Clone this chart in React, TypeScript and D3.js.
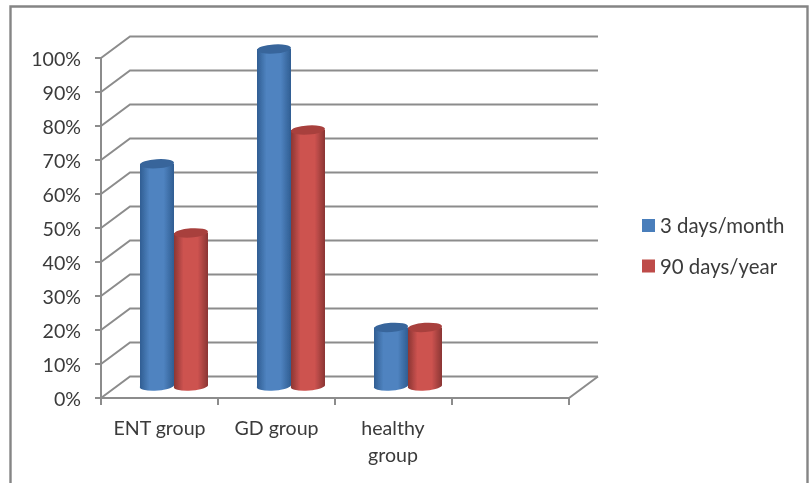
import React from "react";
import * as d3 from "d3";

const categories = ["ENT group", "GD group", "healthy group", ""];
const categoryLines = [["ENT group"], ["GD group"], ["healthy", "group"], []];
const seriesNames = ["3 days/month", "90 days/year"];
const threeDaysMonth = [66, 100, 17.5];
const ninetyDaysYear = [45.5, 76, 17.5];
const yTicks = [0, 10, 20, 30, 40, 50, 60, 70, 80, 90, 100];

const FONT = "Lato, 'Open Sans', sans-serif";
const AXIS = "#8c8c8c";
const TEXT = "#3a3a3a";
const DEPTH_X = 29;
const DEPTH_Y = 21.5;
const COLORS = [
  { id: "blue", edge: "#2f5d92", mid: "#4f83c0", top: "#37659b", legend: "#4a7ebb" },
  { id: "red", edge: "#8a3533", mid: "#cd5350", top: "#a8413e", legend: "#be4b48" },
];

export default function App() {
  const x = d3.scaleBand<string>().domain(categories).range([101, 569]);
  const yFront = d3.scaleLinear().domain([0, 100]).range([398, 58]);
  const yBar = d3.scaleLinear().domain([0, 100]).range([386.5, 49]);
  const bw = x.bandwidth();
  const barW = 34;
  const rx = barW / 2;
  const ry = 4.6;
  const series = [threeDaysMonth, ninetyDaysYear];

  return (
    <svg width={811} height={483} style={{ position: "absolute", left: 0, top: 0, display: "block", background: "#fff" }}>
      <defs>
        {COLORS.map((c) => (
          <linearGradient key={c.id} id={c.id} x1="0" x2="1" y1="0" y2="0">
            <stop offset="0" stopColor={c.edge} />
            <stop offset="0.28" stopColor={c.mid} />
            <stop offset="0.7" stopColor={c.mid} />
            <stop offset="1" stopColor={c.edge} />
          </linearGradient>
        ))}
        <filter id="soft" x="-5%" y="-5%" width="110%" height="110%">
          <feGaussianBlur stdDeviation="0.45" />
        </filter>
      </defs>
      <g filter="url(#soft)">
        <path d="M10.5,490 V6.5 H807.5 V490" fill="none" stroke="#858585" strokeWidth={2.4} />
        {yTicks.map((t) => {
          const y0 = yFront(t);
          return (
            <g key={t}>
              <path
                d={`M101,${y0} L${101 + DEPTH_X},${y0 - DEPTH_Y} H${569 + DEPTH_X}`}
                fill="none"
                stroke={AXIS}
                strokeWidth={2}
              />
              <line x1={95} x2={101} y1={y0} y2={y0} stroke={AXIS} strokeWidth={2} />
              <text x={81} y={y0 + 7.5} textAnchor="end" fontFamily={FONT} fontSize={19.6} fill={TEXT}>
                {t}%
              </text>
            </g>
          );
        })}
        <line x1={101} x2={101} y1={yFront(100)} y2={yFront(0)} stroke={AXIS} strokeWidth={2} />
        <path d={`M101,398 H569 L${569 + DEPTH_X},${398 - DEPTH_Y}`} fill="none" stroke={AXIS} strokeWidth={2} />
        {[...categories.map((c) => x(c) as number), 569].map((px) => (
          <line key={px} x1={px} x2={px} y1={398} y2={405} stroke={AXIS} strokeWidth={2} />
        ))}
        {categories.map((c, i) =>
          categoryLines[i].map((ln, j) => (
            <text
              key={ln}
              x={(x(c) as number) + bw / 2 + (i === 2 ? -0.5 : 0)}
              y={435 + j * 26.5}
              textAnchor="middle"
              fontFamily={FONT}
              fontSize={19.6}
              fill={TEXT}
            >
              {ln}
            </text>
          ))
        )}
        {categories.slice(0, 3).map((c, i) =>
          series.map((vals, s) => {
            const left = (x(c) as number) + bw / 2 + DEPTH_X / 2 - barW + s * barW;
            const cx = left + rx;
            const yT = yBar(vals[i]);
            const yB = yBar(0);
            const col = COLORS[s];
            return (
              <g key={c + s}>
                <path
                  d={`M${left},${yT} V${yB} A${rx},${ry} -4 0 0 ${left + barW},${yB - 1} V${yT} Z`}
                  fill={`url(#${col.id})`}
                />
                <ellipse cx={cx} cy={yT} rx={rx} ry={ry} fill={col.top} transform={`rotate(-4 ${cx} ${yT})`} />
              </g>
            );
          })
        )}
        {seriesNames.map((n, i) => (
          <g key={n}>
            <rect x={642} y={219 + i * 40.5} width={13} height={13} fill={COLORS[i].legend} />
            <text x={660} y={233 + i * 40.5} fontFamily={FONT} fontSize={20.4} fill={TEXT}>
              {n}
            </text>
          </g>
        ))}
      </g>
    </svg>
  );
}
